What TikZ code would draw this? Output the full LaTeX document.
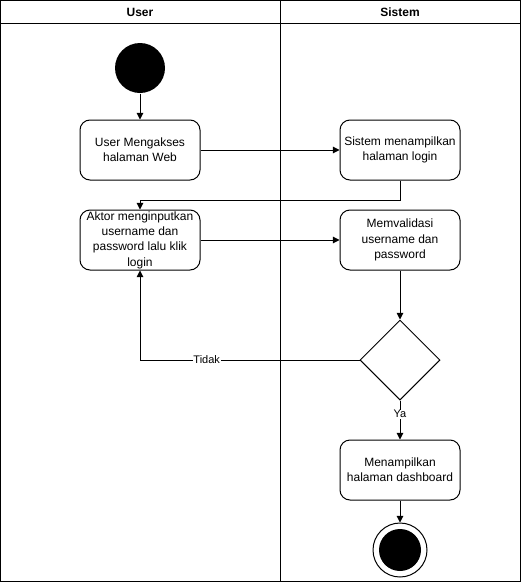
\documentclass[tikz,border=0pt]{standalone}
\usepackage{fontspec}
\setmainfont{Liberation Sans}
\usetikzlibrary{arrows.meta,shapes.geometric}

\tikzset{
  act/.style={draw, rounded corners=7.5pt, minimum width=90pt, minimum height=45pt,
    align=center, inner sep=1pt, font=\fontsize{9}{11.5}\selectfont},
  head/.style={font=\bfseries\fontsize{9}{11}\selectfont},
  flow/.style={-{Triangle[length=5pt,width=5pt]}},
  lbl/.style={fill=white, inner sep=0.5pt, font=\fontsize{8.25}{10}\selectfont},
}

\begin{document}
\begin{tikzpicture}[x=0.75pt, y=-0.75pt, line width=0.75pt]
    \useasboundingbox (0,0) rectangle (521,582);
    % swimlanes
    \draw (0.5,0.5) rectangle (520.5,581.5);
    \draw (0.5,23) -- (520.5,23);
    \draw (280,0.5) -- (280,581.5);
    \node[head] (huser) at (140,12) {User};
    \node[head] (hsistem) at (400,12) {Sistem};

    % activities
    \node[circle, fill=black, minimum size=37.5pt, inner sep=0] (mulai) at (140,68) {};
    \node[act] (akses) at (140,150) {User Mengakses\\halaman Web};
    \node[act] (tampil) at (400,150) {Sistem menampilkan\\halaman login};
    \node[act] (input) at (140,240) {Aktor menginputkan\\username dan\\password lalu klik\\login};
    \node[act] (validasi) at (400,240) {Memvalidasi\\username dan\\password};
    \node[diamond, draw, aspect=1, minimum size=60pt, inner sep=0] (cek) at (400,360) {};
    \node[act] (dash) at (400,470) {Menampilkan\\halaman dashboard};
    \node[circle, draw, minimum size=40.5pt, inner sep=0] (selesai) at (400,550) {};
    \fill (selesai.center) circle (15.75pt);

    % connectors
    \draw[flow] (mulai) -- (akses);
    \draw[flow] (akses) -- (tampil);
    \draw[flow] (tampil.south) -- ++(0,20) -| (input.north);
    \draw[flow] (input) -- (validasi);
    \draw[flow] (validasi) -- (cek);
    \draw[flow] (cek.west) -| node[lbl, pos=0.348] {Tidak} (input.south);
    \draw[flow] (cek.south) -- node[lbl, pos=0.35] {Ya} (dash.north);
    \draw[flow] (dash) -- (selesai);
\end{tikzpicture}
\end{document}
